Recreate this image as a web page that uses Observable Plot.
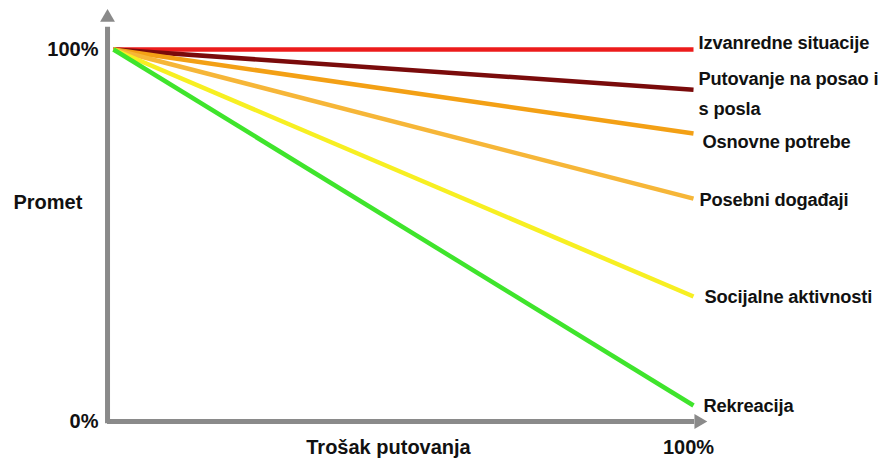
<!DOCTYPE html>
<html>
<head>
<meta charset="utf-8">
<script src="https://cdn.jsdelivr.net/npm/d3@7"></script>
<script src="https://cdn.jsdelivr.net/npm/@observablehq/plot@0.6"></script>
<style>
  html, body { margin: 0; padding: 0; background: #fff; }
  #chart svg { display: block; }
  .endlabel text { letter-spacing: -0.15px; }
</style>
</head>
<body>
<div id="chart"></div>
<script>
// Data (percent of full traffic vs. travel cost)
const series = ["Izvanredne situacije", "Putovanje na posao i\ns posla", "Osnovne potrebe", "Posebni događaji", "Socijalne aktivnosti", "Rekreacija"];
const startCost = [0, 0, 0, 0, 0, 0];
const endCost = [100, 100, 100, 100, 100, 100];
const startTraffic = [100, 100, 100, 100, 100, 100];
const endTraffic = [100, 89.2, 77.4, 59.9, 33.6, 4.3];
const colors = ["#ec1c1c", "#7a0b0b", "#f3a015", "#f6b638", "#f7ef22", "#3fe42c"];
const yTicks = [0, 100];
const xTicks = [100];
const xTitle = "Trošak putovanja";
const yTitle = "Promet";

const rows = series.flatMap((name, i) => [
  {name, cost: startCost[i], traffic: startTraffic[i], order: i},
  {name, cost: endCost[i], traffic: endTraffic[i], order: i}
]);
const ends = series.map((name, i) => ({name, cost: endCost[i], traffic: endTraffic[i], order: i}));
// label offsets (px) relative to each line end
const labelDx = [5, 5, 9, 6, 11, 10];
const labelDy = [-10, 1, 5, -2, -3, -3];

const FONT = "'Liberation Sans', Arial, sans-serif";
const gray = "#8a8a8a";

const chart = Plot.plot({
  width: 884,
  height: 461,
  marginLeft: 113,
  marginRight: 191,
  marginTop: 49,
  marginBottom: 40,
  style: {fontFamily: FONT, background: "#fff", overflow: "visible"},
  x: {domain: [0, 100], axis: null},
  y: {domain: [0, 100], axis: null},
  color: {domain: series, range: colors},
  marks: [
    // axes with arrow heads
    Plot.ruleY([0], {x1: -1.03, x2: 100.2, stroke: gray, strokeWidth: 5}),
    Plot.ruleX([-1.03], {y1: -0.6, y2: 106, stroke: gray, strokeWidth: 5}),
    Plot.dot([0], {x: 100.9, y: 0, symbol: "triangle", r: 5.5, rotate: 90, fill: gray, stroke: null}),
    Plot.dot([0], {x: -1.03, y: 108.6, symbol: "triangle", r: 5.5, rotate: 0, fill: gray, stroke: null}),
    // tick labels
    Plot.text(yTicks, {x: 0, y: d => d, text: d => d + "%", textAnchor: "end", dx: -15, fontSize: 20, fontWeight: "bold", fill: "#111"}),
    Plot.text(xTicks, {x: d => d, y: 0, text: d => d + "%", dx: -5, dy: 26, fontSize: 20, fontWeight: "bold", fill: "#111"}),
    // axis titles
    Plot.text([yTitle], {frameAnchor: "left", text: d => d, textAnchor: "start", dx: -100, dy: -33, fontSize: 20, fontWeight: "bold", fill: "#111"}),
    Plot.text([xTitle], {frameAnchor: "bottom", text: d => d, dx: -15, dy: 32, fontSize: 20, fontWeight: "bold", fill: "#111"}),
    // series lines (drawn bottom-up so red is on top)
    Plot.line(rows, {x: "cost", y: "traffic", z: "name", stroke: "name", strokeWidth: 4.5, strokeLinecap: "butt", sort: {value: "order", reverse: true}}),
    // end labels
    ...ends.map((d, i) => Plot.text([d], {x: "cost", y: "traffic", text: "name", textAnchor: "start", dx: labelDx[i], dy: labelDy[i], lineHeight: 1.62, fontSize: 18.3, fontWeight: "bold", fill: "#111", className: "endlabel"}))
  ]
});
document.getElementById("chart").appendChild(chart);
</script>
</body>
</html>
